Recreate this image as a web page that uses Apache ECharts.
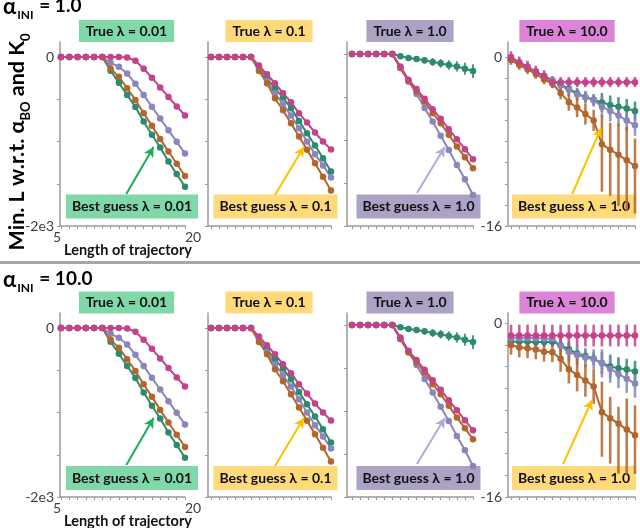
<!DOCTYPE html>
<html><head><meta charset="utf-8">
<script src="https://cdn.jsdelivr.net/npm/echarts@6/dist/echarts.min.js"></script>
<style>html,body{margin:0;padding:0;background:#fff}#c{width:640px;height:528px}</style>
</head><body><div id="c"></div>
<script>
// ---------- DATA ----------
const xValues = [5,6,7,8,9,10,11,12,13,14,15,16,17,18,19,20];
const yTicksBig = [-2000,-1500,-1000,-500,0];
const yLabelsBig = [-2000,0];
const yTicksSmall = [-16,-14,-12,-10,-8,-6,-4,-2,0];
const yLabelsSmall = [-16,0];
const xLabels = [5,20];

// True lambda = 0.01 (same in both alpha_INI rows)
const lam001Green  = [0,0,0,0,0,0,-163,-305,-450,-591,-764,-921,-1071,-1236,-1386,-1535];
const lam001Brown  = [0,0,0,0,0,0,-138,-235,-370,-508,-665,-815,-969,-1118,-1264,-1408];
const lam001Purple = [0,0,0,0,0,0,-69,-116,-195,-318,-449,-590,-728,-866,-1004,-1143];
const lam001Pink   = [0,0,0,0,0,0,0,0,-6,-45,-138,-246,-360,-473,-585,-692];
const lam001PinkErr= [0,0,0,0,0,0,0,0,8,12,18,20,22,25,25,28];

// True lambda = 0.1
const lam01Green  = [0,0,0,0,0,0,-126,-252,-370,-480,-606,-756,-902,-1047,-1197,-1354];
const lam01Brown  = [0,0,0,0,0,0,-165,-311,-488,-630,-783,-941,-1098,-1256,-1417,-1579];
const lam01Purple = [0,0,0,0,0,0,-142,-283,-429,-559,-693,-843,-1000,-1150,-1283,-1425];
const lam01Pink   = [0,0,0,0,0,0,-102,-205,-311,-429,-535,-665,-776,-894,-1000,-1094];
const lam01PinkErr= [0,0,0,0,0,0,10,12,12,14,14,16,16,18,18,20];

// True lambda = 1.0
const lam1Green   = [0,0,0,0,0,0,-27,-47,-58,-74,-93,-109,-128,-144,-171,-198];
const lam1GreenErr= [0,0,0,0,0,0,25,30,35,40,45,50,55,60,70,80];
const lam1Brown   = [0,0,0,0,0,0,-163,-319,-435,-552,-688,-804,-940,-1076,-1200,-1329];
const lam1Purple  = [0,0,0,0,0,0,-163,-311,-466,-629,-785,-952,-1115,-1290,-1457,-1640];
const lam1Pink    = [0,0,0,0,0,0,-144,-299,-408,-520,-641,-754,-874,-991,-1107,-1224];

// True lambda = 10.0, alpha_INI = 1.0
const ini1Lam10Green     = [-0.2,-0.6,-1.0,-1.4,-1.82,-2.2,-2.6,-3.0,-3.45,-3.8,-4.05,-4.3,-4.55,-4.7,-4.88,-5.12];
const ini1Lam10GreenErr  = [0.35,0.35,0.35,0.35,0.35,0.35,0.5,0.5,0.5,0.5,0.5,0.9,0.9,0.9,0.9,0.9];
const ini1Lam10Purple    = [-0.2,-0.6,-1.0,-1.4,-1.82,-2.2,-2.7,-3.1,-3.55,-3.8,-4.1,-4.7,-5.1,-5.55,-6.0,-6.47];
const ini1Lam10PurpleErr = [0.35,0.35,0.35,0.35,0.35,0.35,0.6,0.6,0.6,0.6,0.6,1.0,1.0,1.0,1.0,1.0];
const ini1Lam10Brown     = [-0.29,-0.76,-1.17,-1.62,-2.13,-2.51,-3.4,-4.28,-4.79,-5.4,-6.0,-8.25,-8.79,-9.25,-9.78,-10.32];
const ini1Lam10BrownUp   = [0.45,0.45,0.45,0.45,0.45,0.45,0.6,0.8,0.9,1.0,1.0,2.75,2.57,2.96,3.18,2.6];
const ini1Lam10BrownDown = [0.45,0.45,0.45,0.45,0.45,0.45,0.6,0.8,0.9,1.0,1.0,4.5,4.35,4.85,4.8,4.5];
const ini1Lam10Pink      = [0,-0.5,-0.9,-1.38,-1.8,-2.38,-2.38,-2.38,-2.38,-2.38,-2.38,-2.38,-2.38,-2.38,-2.38,-2.38];
const ini1Lam10PinkErr   = [0.55,0.55,0.55,0.55,0.55,0.55,0.48,0.48,0.48,0.48,0.48,0.48,0.48,0.48,0.48,0.48];

// True lambda = 10.0, alpha_INI = 10.0
const ini10Lam10Green     = [-1.72,-1.72,-1.72,-1.74,-1.74,-1.72,-2.04,-2.41,-2.81,-3.03,-3.27,-3.68,-4.0,-4.15,-4.28,-4.47];
const ini10Lam10GreenErr  = [0.4,0.4,0.4,0.4,0.4,0.4,0.6,0.6,0.6,0.6,0.6,1.0,1.0,1.0,1.0,1.0];
const ini10Lam10Purple    = [-1.4,-1.4,-1.4,-1.4,-1.42,-1.45,-2.1,-2.67,-2.95,-3.17,-3.32,-3.71,-4.2,-4.69,-5.12,-5.57];
const ini10Lam10PurpleErr = [0.4,0.4,0.4,0.4,0.4,0.4,0.9,0.9,0.9,0.9,0.9,1.3,1.3,1.3,1.3,1.3];
const ini10Lam10Brown     = [-2.02,-2.25,-2.33,-2.44,-2.65,-2.7,-3.29,-4.26,-4.78,-5.28,-5.84,-8.2,-8.77,-9.25,-9.8,-10.32];
const ini10Lam10BrownUp   = [0.9,0.9,0.9,0.9,0.9,0.9,1.2,1.3,1.5,1.5,1.6,2.8,1.97,1.54,2.86,2.74];
const ini10Lam10BrownDown = [0.9,0.9,0.9,0.9,0.9,0.9,1.2,1.3,1.5,1.5,1.6,4.1,4.16,4.6,4.06,3.56];
const ini10Lam10Pink      = [-1.15,-1.15,-1.15,-1.15,-1.15,-1.15,-1.15,-1.15,-1.15,-1.15,-1.15,-1.15,-1.15,-1.15,-1.15,-1.15];
const ini10Lam10PinkErr   = [1.0,1.0,1.0,1.0,1.0,1.0,1.0,1.0,1.0,1.0,1.0,1.0,1.0,1.0,1.0,1.0];

const trueLabels  = ['True λ = 0.01','True λ = 0.1','True λ = 1.0','True λ = 10.0'];
const guessLabels = ['Best guess λ = 0.01','Best guess λ = 0.1','Best guess λ = 1.0','Best guess λ = 1.0'];
const rowLabels   = ['1.0','10.0'];

// ---------- STYLE / LAYOUT ----------
const COL = {green:'#2d8b6d', brown:'#b4652c', purple:'#8a86bc', pink:'#c5418a'};
const BOX = ['#80d7a8','#ffd97a','#aba2c5','#dc84d8'];
const GUESSBOX = ['#80d7a8','#ffd97a','#aba2c5','#ffd97a'];
const ARROWC = ['#14b04e','#ffc000','#b5a9d8','#ffc000'];
const FONT = 'Lato';
const colLeft  = [60, 208, 347, 508];
const colFirst = [61, 211, 352, 511];
const colLast  = [185, 331, 473, 635];
const rowTop = [42, 313];
const rowBottom = [226, 497];
const zeroPx = [[57,57,54,57],[328,328,325,323]];
const trueCx = [126.5, 269, 410, 567];
const trueCy = [31, 302.5];
const guessCx = [132, 275.5, 418.5, 574];
const guessCy = [206.5, 478];

function pairs(vals){ return xValues.map((x,i)=>[x, vals[i]]); }
function bars(vals, up, down){ return xValues.map((x,i)=>[x, vals[i], vals[i]-(down?down[i]:up[i]), vals[i]+up[i]]); }

const panelLines = [
  [ {v:lam001Green,c:'green'},{v:lam001Purple,c:'purple'},{v:lam001Brown,c:'brown'},{v:lam001Pink,c:'pink',up:lam001PinkErr} ],
  [ {v:lam01Green,c:'green'},{v:lam01Purple,c:'purple'},{v:lam01Brown,c:'brown'},{v:lam01Pink,c:'pink',up:lam01PinkErr} ],
  [ {v:lam1Green,c:'green',up:lam1GreenErr},{v:lam1Purple,c:'purple'},{v:lam1Brown,c:'brown'},{v:lam1Pink,c:'pink'} ],
  [ {v:ini1Lam10Green,c:'green',up:ini1Lam10GreenErr},{v:ini1Lam10Purple,c:'purple',up:ini1Lam10PurpleErr},{v:ini1Lam10Brown,c:'brown',up:ini1Lam10BrownUp,down:ini1Lam10BrownDown},{v:ini1Lam10Pink,c:'pink',up:ini1Lam10PinkErr} ],
  [ {v:lam001Green,c:'green'},{v:lam001Purple,c:'purple'},{v:lam001Brown,c:'brown'},{v:lam001Pink,c:'pink',up:lam001PinkErr} ],
  [ {v:lam01Green,c:'green'},{v:lam01Purple,c:'purple'},{v:lam01Brown,c:'brown'},{v:lam01Pink,c:'pink',up:lam01PinkErr} ],
  [ {v:lam1Green,c:'green',up:lam1GreenErr},{v:lam1Purple,c:'purple'},{v:lam1Brown,c:'brown'},{v:lam1Pink,c:'pink'} ],
  [ {v:ini10Lam10Green,c:'green',up:ini10Lam10GreenErr},{v:ini10Lam10Purple,c:'purple',up:ini10Lam10PurpleErr},{v:ini10Lam10Brown,c:'brown',up:ini10Lam10BrownUp,down:ini10Lam10BrownDown},{v:ini10Lam10Pink,c:'pink',up:ini10Lam10PinkErr} ]
];
// annotation arrows in data units (tail -> head)
const arrows = [
  [[12.9,-1620],[16.2,-1065]], [[13.0,-1633],[16.6,-1065]], [[13.05,-1616],[16.5,-1081]], [[12.4,-12.97],[15.9,-6.72]],
  [[12.9,-1620],[16.2,-1065]], [[13.0,-1633],[16.6,-1065]], [[13.05,-1616],[16.5,-1081]], [[11.3,-12.97],[14.8,-7.08]]
];

const grids=[], xAxes=[], yAxes=[], series=[];
const axisGray = '#9a9a9a';
for (let k=0;k<8;k++){
  const r = k>>2, c = k&3, big = c<3;
  const step = (colLast[c]-colFirst[c])/15;
  const xmin = 5 - (colFirst[c]-colLeft[c])/step;
  const top = rowTop[r], bottom = rowBottom[r], z0 = zeroPx[r][c];
  const ymin = big ? -2000 : -16;
  const ymax = -ymin*(z0-top)/(bottom-z0);
  grids.push({left:colLeft[c], top:top, width:colLast[c]-colLeft[c], height:bottom-top, outerBoundsMode:'none', containLabel:false});
  const showLab = (c===0 || c===3);
  xAxes.push({type:'value', gridIndex:k, min:xmin, max:20,
    axisLine:{show:true, onZero:false, lineStyle:{color:axisGray, width:1.5}},
    axisTick:{show:true, customValues:xValues, length:3, lineStyle:{color:axisGray, width:1}},
    axisLabel:{show:c===0, customValues:xLabels, fontFamily:FONT, fontSize:14, color:'#404040', margin:4, alignMinLabel:'right', alignMaxLabel:'left'},
    splitLine:{show:false}});
  yAxes.push({type:'value', gridIndex:k, min:ymin, max:ymax,
    axisLine:{show:true, onZero:false, lineStyle:{color:axisGray, width:1.5}},
    axisTick:{show:true, customValues: big?yTicksBig:yTicksSmall, length:3, lineStyle:{color:axisGray, width:1}},
    axisLabel:{show:showLab, customValues: big?yLabelsBig:yLabelsSmall, fontFamily:FONT, fontSize:14, color:'#404040', margin:6,
      formatter: v => (v===-2000 ? '-2e3' : String(v))},
    splitLine:{show:false}});
  const lines = panelLines[k];
  lines.forEach((L, li) => {
    const color = COL[L.c];
    if (L.up){
      series.push({type:'custom', xAxisIndex:k, yAxisIndex:k, silent:true, z:2,
        data: bars(L.v, L.up, L.down), encode:{x:0, y:1},
        renderItem: (params, api) => {
          const p1 = api.coord([api.value(0), api.value(2)]);
          const p2 = api.coord([api.value(0), api.value(3)]);
          return {type:'line', shape:{x1:p1[0], y1:p1[1], x2:p2[0], y2:p2[1]}, style:{stroke:color, lineWidth: big?2:2.6, opacity:0.85}};
        }});
    }
    const s = {type:'line', xAxisIndex:k, yAxisIndex:k, data:pairs(L.v), symbol:'circle', symbolSize:6.5, showSymbol:true,
      itemStyle:{color:color}, lineStyle:{color:color, width:2}, z:3, silent:true};
    if (li === lines.length-1){
      s.markLine = {silent:true, symbol:['none','arrow'], symbolSize:[8,10], animation:false,
        lineStyle:{color:ARROWC[c], width:2, type:'solid'}, label:{show:false},
        data:[[{coord:arrows[k][0]},{coord:arrows[k][1]}]]};
    }
    series.push(s);
  });
}

const graphic = [];
graphic.push({type:'rect', shape:{x:0, y:261, width:640, height:3}, style:{fill:'#a6a6a6'}, silent:true});
const alphaRich = {
  al:{fontFamily:FONT, fontWeight:'bold', fontSize:22, lineHeight:24, verticalAlign:'top', fill:'#000'},
  a:{fontFamily:FONT, fontWeight:'bold', fontSize:19, lineHeight:24, verticalAlign:'top', fill:'#000'},
  s:{fontFamily:FONT, fontWeight:'bold', fontSize:12, lineHeight:12, padding:[13,1,0,1], verticalAlign:'top', fill:'#000'}
};
[0,1].forEach(r => {
  graphic.push({type:'text', x:3, y: r===0 ? -4 : 269, silent:true,
    style:{text:'{al|α}{s|INI}{a| = '+rowLabels[r]+'}', rich:alphaRich}});
  graphic.push({type:'text', x:128, y: rowBottom[r]+24, silent:true,
    style:{text:'Length of trajectory', font:'bold 14.5px '+FONT, fill:'#111', align:'center', verticalAlign:'middle'}});
  for (let c=0;c<4;c++){
    graphic.push({type:'text', x:trueCx[c], y:trueCy[r], silent:true,
      style:{text:trueLabels[c], font:'bold 14px '+FONT, lineHeight:14, fill:'#111', align:'center', verticalAlign:'middle',
        backgroundColor:BOX[c], padding:[4,7,4,7]}});
    graphic.push({type:'text', x:guessCx[c], y:guessCy[r], silent:true,
      style:{text:guessLabels[c], font:'bold 14px '+FONT, lineHeight:16, fill:'#111', align:'center', verticalAlign:'middle',
        backgroundColor:GUESSBOX[c], padding:[4,6,4,6]}});
  }
});
const yRich = {
  a:{fontFamily:FONT, fontWeight:'bold', fontSize:21.5, lineHeight:24, verticalAlign:'top', fill:'#000'},
  s:{fontFamily:FONT, fontWeight:'bold', fontSize:13, lineHeight:13, padding:[13,0,0,0], verticalAlign:'top', fill:'#000'}
};
graphic.push({type:'text', x:6, y:142, rotation:Math.PI/2, silent:true,
  style:{text:'{a|Min. L w.r.t. α}{s|BO}{a| and K}{s|0}', rich:yRich, align:'center', verticalAlign:'top'}});

const chart = echarts.init(document.getElementById('c'), null, {renderer:'canvas'});
chart.setOption({animation:false, backgroundColor:'#fff', grid:grids, xAxis:xAxes, yAxis:yAxes, series:series, graphic:graphic});
</script></body></html>
